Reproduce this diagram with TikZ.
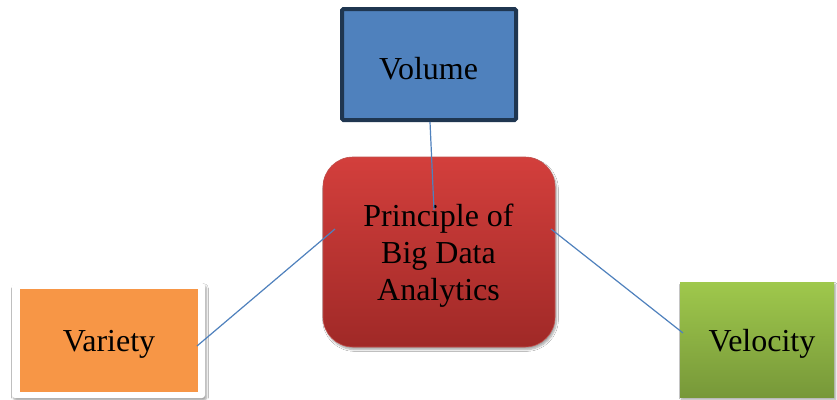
\documentclass[tikz,border=0pt]{standalone}
\usepackage{fontspec}
\setmainfont{Liberation Serif}
\usetikzlibrary{shadows.blur}
\definecolor{volfill}{HTML}{4F81BD}
\definecolor{voledge}{HTML}{1F3650}
\definecolor{redtop}{HTML}{D33F3C}
\definecolor{redbot}{HTML}{A02927}
\definecolor{rededge}{HTML}{C0504D}
\definecolor{orangefill}{HTML}{F79646}
\definecolor{greentop}{HTML}{9FC84C}
\definecolor{greenbot}{HTML}{779839}
\definecolor{linkblue}{HTML}{4F81BD}
\tikzset{
  label text/.style={font=\fontsize{32}{37}\selectfont, text=black, align=center, inner sep=0pt},
  link/.style={draw=linkblue, line width=1.2pt},
  softshadow/.style={blur shadow={shadow xshift=1.5pt, shadow yshift=-2.5pt, shadow blur steps=6, shadow opacity=35}},
}
\begin{document}
\begin{tikzpicture}[x=1pt,y=-1pt]
  \useasboundingbox (0,0) rectangle (837,399);
  \fill[white] (0,0) rectangle (837,399);

  % Volume: blue box with a heavy dark frame
  \node[draw=voledge, line width=4pt, fill=volfill, minimum width=174pt, minimum height=111pt,
        inner sep=0pt, rounded corners=1.5pt] (vol) at (429,64.5) {};
  \node[label text] (voltext) at (428.5,68.5) {Volume};

  % Variety: orange box on a white card
  \node[fill=white, softshadow, minimum width=193pt, minimum height=115pt, inner sep=0pt,
        rounded corners=3pt] (varcard) at (108.5,340.5) {};
  \node[fill=orangefill, minimum width=178pt, minimum height=103pt, inner sep=0pt] (var) at (109,340.5) {};
  \node[label text] (vartext) at (109,344) {Variety};

  % Velocity: green shaded box
  \node[top color=greentop, bottom color=greenbot, softshadow, minimum width=154pt,
        minimum height=115pt, inner sep=0pt] (vel) at (757,339.5) {};
  \node[label text] (veltext) at (762,344) {Velocity};

  % Central rounded box
  \node[top color=redtop, bottom color=redbot, draw=rededge, line width=0.6pt,
        rounded corners=30pt, softshadow, minimum width=232pt, minimum height=190pt,
        inner sep=0pt] (pbda) at (439,252) {};
  \node[label text] (pbdatext) at (438.5,255.5) {Principle of\\Big Data\\Analytics};

  % Connector end points
  \coordinate (volend) at (430,122);
  \coordinate (ctop) at (434,210);
  \coordinate (cleft) at (335,229);
  \coordinate (varend) at (197,346);
  \coordinate (cright) at (551,229);
  \coordinate (velend) at (683,333);

  \draw[link] (volend) -- (ctop);
  \draw[link] (cleft) -- (varend);
  \draw[link] (cright) -- (velend);
\end{tikzpicture}
\end{document}
